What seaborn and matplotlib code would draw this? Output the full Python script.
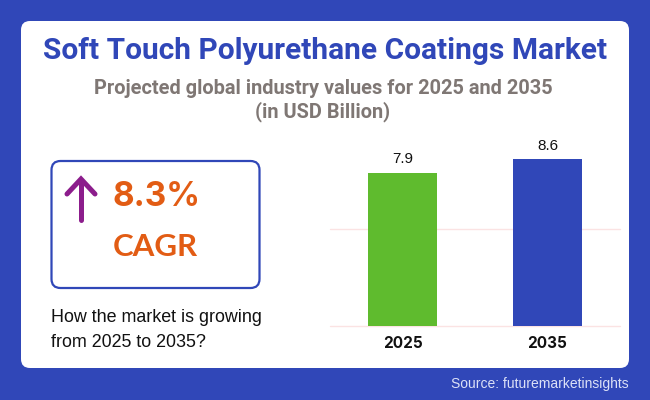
import matplotlib
matplotlib.use("Agg")
import matplotlib.pyplot as plt
import pandas as pd
import seaborn as sns
from matplotlib.patches import FancyBboxPatch

YEARS = ["2025", "2035"]
VALUES = [7.9, 8.6]
BAR_COLORS = ["#5FBB2E", "#3047B8"]
GRID_TICKS = [0, 5]

TITLE = "Soft Touch Polyurethane Coatings Market"
SUBTITLE = "Projected global industry values for 2025 and 2035"
UNIT_LINE = "(in USD Billion)"
CAGR_VALUE = "8.3%"
CAGR_LABEL = "CAGR"
QUESTION = "How the market is growing\nfrom 2025 to 2035?"
SOURCE = "Source: futuremarketinsights"

BLUE = "#3047B8"
ORANGE = "#E25C14"
PURPLE = "#8C1D8C"
GREY = "#7F7774"
W, H = 650, 400

sns.set_theme(style="white")
plt.rcParams["font.family"] = ["Roboto", "DejaVu Sans"]

fig = plt.figure(figsize=(W / 100, H / 100), dpi=100, facecolor=BLUE)

# pixel-coordinate layer for the card and the text
bg = fig.add_axes([0, 0, 1, 1], zorder=0)
bg.set_xlim(0, W)
bg.set_ylim(H, 0)
bg.axis("off")
bg.add_patch(FancyBboxPatch((21, 21), 608, 347, boxstyle="round,pad=0,rounding_size=9",
                            fc="white", ec="none"))
bg.add_patch(FancyBboxPatch((51.5, 161), 208, 127, boxstyle="round,pad=0,rounding_size=9",
                            fc="none", ec=BLUE, lw=1.6))

bg.text(325, 51, TITLE, ha="center", va="center", fontsize=21.5, fontweight="bold", color=BLUE)
bg.text(323, 88, SUBTITLE, ha="center", va="center", fontsize=14.4, fontweight="bold", color=GREY)
bg.text(323, 112, UNIT_LINE, ha="center", va="center", fontsize=14.4, fontweight="bold", color=GREY)

bg.plot([81, 81], [180, 220], color=PURPLE, lw=3.6, solid_capstyle="round")
bg.plot([67, 81, 95], [194, 179, 194], color=PURPLE, lw=3.6,
        solid_capstyle="round", solid_joinstyle="miter")
bg.text(113, 206, CAGR_VALUE, ha="left", va="baseline", fontsize=24, fontweight="bold",
        color=ORANGE, family="Inter")
bg.text(113, 256, CAGR_LABEL, ha="left", va="baseline", fontsize=22.5, fontweight="bold",
        color=ORANGE, family="Lato")
bg.text(51, 330, QUESTION, ha="left", va="center", fontsize=12.9, color="#111111",
        family="Liberation Sans", linespacing=1.64)
bg.text(629, 384, SOURCE, ha="right", va="center", fontsize=10, color="#DCE1F7",
        family="Liberation Sans")

# bar chart
ax = fig.add_axes([330 / W, 1 - 326 / H, 290 / W, 194 / H], zorder=1)
ax.patch.set_alpha(0)
df = pd.DataFrame({"year": YEARS, "value": VALUES})
sns.barplot(data=df, x="year", y="value", hue="year", palette=BAR_COLORS, width=0.48,
            saturation=1, linewidth=0, legend=False, ax=ax, zorder=2)
ax.set_xlim(-0.5, 1.5)
ax.set_ylim(0, 10)
ax.set_yticks(GRID_TICKS)
ax.tick_params(axis="y", left=False, labelleft=False)
ax.tick_params(axis="x", bottom=False, pad=1.5)
ax.grid(axis="y", color="#FBE3E3", lw=1, zorder=0, clip_on=False)
ax.set_axisbelow(True)
ax.set_xlabel("")
ax.set_ylabel("")
sns.despine(ax=ax, left=True, bottom=True)
for label in ax.get_xticklabels():
    label.set_fontsize(11)
    label.set_fontweight("bold")
    label.set_family("Inter")
    label.set_color("#111111")
for container in ax.containers:
    ax.bar_label(container, fmt="%.1f", padding=4.5, fontsize=11, color="#111111",
                 family="Liberation Sans")

fig.savefig("out.png", dpi=100, facecolor=BLUE)
